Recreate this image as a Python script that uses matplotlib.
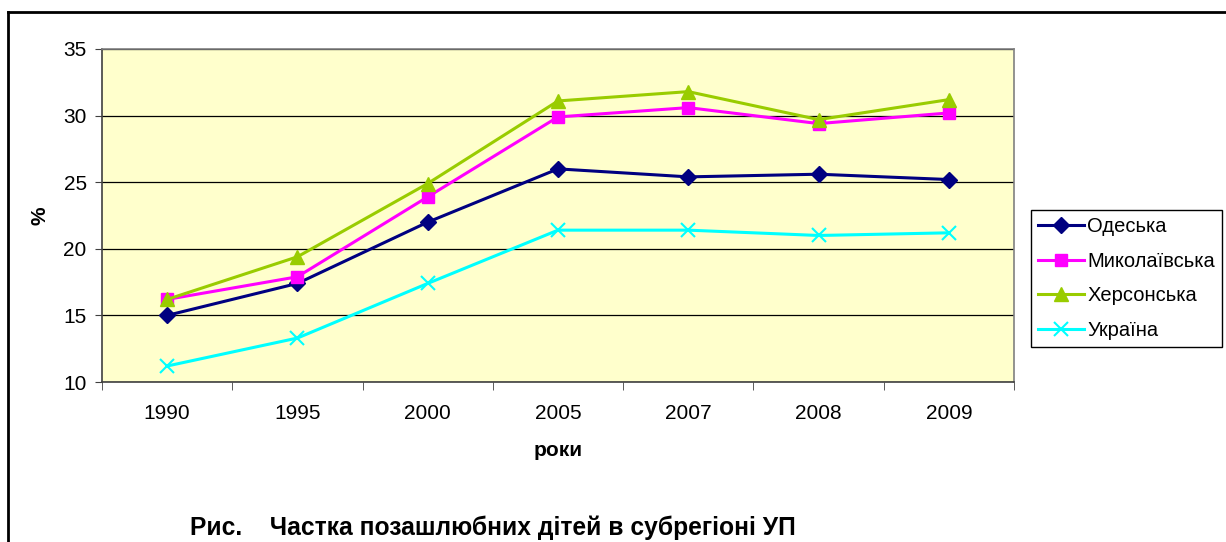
import matplotlib
matplotlib.use("Agg")
import matplotlib.pyplot as plt
from matplotlib.lines import Line2D

years = ["1990", "1995", "2000", "2005", "2007", "2008", "2009"]
odeska = [15.0, 17.4, 22.0, 26.0, 25.4, 25.6, 25.2]
mykolaivska = [16.2, 17.9, 23.9, 29.9, 30.6, 29.4, 30.2]
khersonska = [16.2, 19.4, 24.9, 31.1, 31.8, 29.7, 31.2]
ukraina = [11.2, 13.3, 17.4, 21.4, 21.4, 21.0, 21.2]
series_names = ["Одеська", "Миколаївська", "Херсонська", "Україна"]
yticks = [10, 15, 20, 25, 30, 35]

plt.rcParams['font.family'] = ['Liberation Sans', 'DejaVu Sans']

W, H = 1226, 542
fig = plt.figure(figsize=(W/100, H/100), dpi=100)
ax = fig.add_axes([102/W, 1-382/H, (1014-102)/W, (382-49)/H])
ax.set_facecolor('#FFFFCC')

x = list(range(len(years)))
ax.plot(x, odeska, color='#000080', lw=2.2, marker='D', ms=8.5, label=series_names[0], zorder=3)
ax.plot(x, mykolaivska, color='#FF00FF', lw=2.2, marker='s', ms=9, label=series_names[1], zorder=3)
ax.plot(x, khersonska, color='#99CC00', lw=2.2, marker='^', ms=10.5, label=series_names[2], zorder=3)
ax.plot(x, ukraina, color='#00FFFF', lw=2.2, marker='x', ms=10, mew=1.5, label=series_names[3], zorder=3)

ax.set_xlim(-0.5, len(years)-0.5)
ax.set_ylim(10, 35)
ax.set_yticks(yticks)
ax.set_yticklabels([str(v) for v in yticks], fontsize=15)
ax.yaxis.grid(True, color='black', lw=0.9)
ax.set_axisbelow(True)

ax.set_xticks(x)
ax.set_xticklabels(years, fontsize=15)
ax.set_xticks([i - 0.5 for i in range(len(years)+1)], minor=True)
ax.tick_params(axis='x', which='major', length=0, pad=16)
ax.tick_params(axis='x', which='minor', length=6, direction='out', color='#404040')
ax.tick_params(axis='y', length=5, direction='out', color='#404040', pad=6)

for s in ['top', 'right']:
    ax.spines[s].set_color('#808080')
    ax.spines[s].set_linewidth(1.2)
for s in ['left', 'bottom']:
    ax.spines[s].set_color('#404040')
    ax.spines[s].set_linewidth(1.2)

ax.set_ylabel('%', fontsize=15, fontweight='bold')
ax.yaxis.set_label_coords((40-102)/912, 0.5)
ax.yaxis.label.set_va('center')
ax.set_xlabel('роки', fontsize=15, fontweight='bold')
ax.xaxis.set_label_coords(0.5, (382-451)/333)
ax.xaxis.label.set_va('center')

leg = ax.legend(loc='upper left', bbox_to_anchor=(1031/W, 1-210/H), bbox_transform=fig.transFigure,
                fontsize=14.5, frameon=True, fancybox=False, edgecolor='black', framealpha=1,
                handlelength=2.3, borderpad=0.35, labelspacing=0.78, handletextpad=0.15,
                borderaxespad=0)
leg.get_frame().set_linewidth(1.0)

fig.text(190/W, 1-528/H, 'Рис.    Частка позашлюбних дітей в субрегіоні УП',
         fontsize=17.7, fontweight='bold', va='center', ha='left')

# outer frame
fig.add_artist(Line2D([8/W, 1.0], [1-12/H, 1-12/H], color='black', lw=2, transform=fig.transFigure))
fig.add_artist(Line2D([8/W, 8/W], [1-12/H, 0], color='black', lw=2, transform=fig.transFigure))

fig.savefig('out.png', dpi=100)
